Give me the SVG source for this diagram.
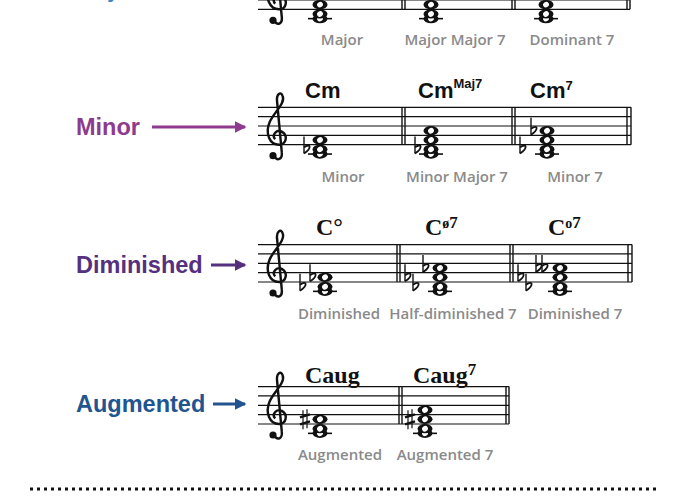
<svg xmlns="http://www.w3.org/2000/svg" width="700" height="500" viewBox="0 0 700 500">
<style>
.st line{stroke:#111;stroke-width:1.2}
.bar{stroke:#111;stroke-width:1.4}
.led{stroke:#111;stroke-width:1.6}
.lab{font-family:"Open Sans","Liberation Sans",sans-serif;font-size:15px;font-weight:600;fill:#8a8a8a;text-anchor:middle}
.cs{font-family:"Liberation Sans",sans-serif;font-weight:bold;font-size:22px;fill:#111}
.cd{font-family:"Liberation Serif",serif;font-weight:bold;font-size:24px;fill:#111}
.sup{font-size:13px}
.cat{font-family:"Liberation Sans",sans-serif;font-weight:bold;font-size:23.5px}
</style>
<defs>
<g id="n"><ellipse rx="7.5" ry="4.6" fill="#111"/><ellipse rx="3" ry="2.7" transform="rotate(-35)" fill="#fff"/></g>
<g id="clef"><path d="M11,52 C14,58 20,56 19,48 L14,-6 C13,-14 18,-18 20,-12 C23,-4 10,6 6,16 C1,28 6,40 16,40 C24,40 26,30 19,26 C13,23 8,30 12,34" fill="none" stroke="#111" stroke-width="2.6" transform="translate(0,-37.4) scale(0.935)"/><circle cx="9" cy="11" r="3.6" fill="#111"/></g>
<g id="fl" fill="none" stroke="#111"><line x1="0" y1="-13" x2="0" y2="4" stroke-width="1.4"/><path d="M0,4 C8,-1 7,-7 0,-2" stroke-width="1.8"/></g>
<g id="dfl"><use href="#fl" x="-5"/><use href="#fl" x="1"/></g>
<g id="sh" stroke="#111"><line x1="-2" y1="-9" x2="-2" y2="10" stroke-width="1.2"/><line x1="2" y1="-10" x2="2" y2="9" stroke-width="1.2"/><line x1="-5" y1="-2" x2="5" y2="-5" stroke-width="2.4"/><line x1="-5" y1="5" x2="5" y2="2" stroke-width="2.4"/></g>
<marker id="ap" markerWidth="4" markerHeight="4" refX="3.5" refY="2" orient="auto" markerUnits="strokeWidth"><path d="M0,0 L4,2 L0,4z" fill="#8E3A8E"/></marker>
<marker id="ad" markerWidth="4" markerHeight="4" refX="3.5" refY="2" orient="auto" markerUnits="strokeWidth"><path d="M0,0 L4,2 L0,4z" fill="#55307F"/></marker>
<marker id="aa" markerWidth="4" markerHeight="4" refX="3.5" refY="2" orient="auto" markerUnits="strokeWidth"><path d="M0,0 L4,2 L0,4z" fill="#22558F"/></marker>
</defs>

<g id="major" transform="translate(0,9.3)">
<text x="76" y="-12" class="cat" fill="#3a86c8">Major</text>
<g class="st"><line x1="258" y1="-37.4" x2="630" y2="-37.4"/><line x1="258" y1="-28.05" x2="630" y2="-28.05"/><line x1="258" y1="-18.7" x2="630" y2="-18.7"/><line x1="258" y1="-9.35" x2="630" y2="-9.35"/><line x1="258" y1="0" x2="630" y2="0"/></g>
<use href="#clef" x="264"/>
<g class="bar"><line x1="402" y1="-37.4" x2="402" y2="0"/><line x1="405" y1="-37.4" x2="405" y2="0"/><line x1="512" y1="-37.4" x2="512" y2="0"/><line x1="515" y1="-37.4" x2="515" y2="0"/><line x1="627" y1="-37.4" x2="627" y2="0"/><line x1="630" y1="-37.4" x2="630" y2="0"/></g>
<g class="led"><line x1="308" y1="9.35" x2="332" y2="9.35"/><line x1="419" y1="9.35" x2="443" y2="9.35"/><line x1="534" y1="9.35" x2="558" y2="9.35"/></g>
<use href="#n" x="320" y="9.35"/><use href="#n" x="320" y="4.675"/><use href="#n" x="320" y="-4.675"/>
<use href="#n" x="431" y="9.35"/><use href="#n" x="431" y="4.675"/><use href="#n" x="431" y="-4.675"/><use href="#n" x="431" y="-14.025"/>
<use href="#n" x="546" y="9.35"/><use href="#n" x="546" y="4.675"/><use href="#n" x="546" y="-4.675"/><use href="#n" x="546" y="-14.025"/>
<text class="lab" x="342" y="36">Major</text><text class="lab" x="455" y="36">Major Major 7</text><text class="lab" x="572" y="36">Dominant 7</text>
</g>

<g id="minor" transform="translate(0,144.7)">
<g class="st"><line x1="258" y1="-37.4" x2="631" y2="-37.4"/><line x1="258" y1="-28.05" x2="631" y2="-28.05"/><line x1="258" y1="-18.7" x2="631" y2="-18.7"/><line x1="258" y1="-9.35" x2="631" y2="-9.35"/><line x1="258" y1="0" x2="631" y2="0"/></g>
<use href="#clef" x="264"/>
<g class="bar"><line x1="402" y1="-37.4" x2="402" y2="0"/><line x1="405" y1="-37.4" x2="405" y2="0"/><line x1="512" y1="-37.4" x2="512" y2="0"/><line x1="515" y1="-37.4" x2="515" y2="0"/><line x1="627" y1="-37.4" x2="627" y2="0"/><line x1="631" y1="-37.4" x2="631" y2="0"/></g>
<g class="led"><line x1="308" y1="9.35" x2="332" y2="9.35"/><line x1="419" y1="9.35" x2="443" y2="9.35"/><line x1="535" y1="9.35" x2="559" y2="9.35"/></g>
<use href="#n" x="320" y="9.35"/><use href="#n" x="320" y="4.675"/><use href="#n" x="320" y="-4.675"/>
<use href="#n" x="431" y="9.35"/><use href="#n" x="431" y="4.675"/><use href="#n" x="431" y="-4.675"/><use href="#n" x="431" y="-14.025"/>
<use href="#n" x="547" y="9.35"/><use href="#n" x="547" y="4.675"/><use href="#n" x="547" y="-4.675"/><use href="#n" x="547" y="-14.025"/>
<use href="#fl" x="304" y="4.675"/><use href="#fl" x="415" y="4.675"/><use href="#fl" x="520" y="4.675"/><use href="#fl" x="531" y="-14.025"/>
<text class="cs" x="305" y="-47">Cm</text>
<text class="cs" x="418" y="-47">Cm<tspan class="sup" dy="-10">Maj7</tspan></text>
<text class="cs" x="530" y="-47">Cm<tspan class="sup" dy="-8" font-size="16">7</tspan></text>
<text class="lab" x="343" y="37">Minor</text><text class="lab" x="457" y="37">Minor Major 7</text><text class="lab" x="575" y="37">Minor 7</text>
</g>

<g id="diminished" transform="translate(0,282)">
<g class="st"><line x1="258" y1="-37.4" x2="632" y2="-37.4"/><line x1="258" y1="-28.05" x2="632" y2="-28.05"/><line x1="258" y1="-18.7" x2="632" y2="-18.7"/><line x1="258" y1="-9.35" x2="632" y2="-9.35"/><line x1="258" y1="0" x2="632" y2="0"/></g>
<use href="#clef" x="264"/>
<g class="bar"><line x1="397" y1="-37.4" x2="397" y2="0"/><line x1="400" y1="-37.4" x2="400" y2="0"/><line x1="510" y1="-37.4" x2="510" y2="0"/><line x1="513" y1="-37.4" x2="513" y2="0"/><line x1="628" y1="-37.4" x2="628" y2="0"/><line x1="632" y1="-37.4" x2="632" y2="0"/></g>
<g class="led"><line x1="313" y1="9.35" x2="337" y2="9.35"/><line x1="428" y1="9.35" x2="452" y2="9.35"/><line x1="548" y1="9.35" x2="572" y2="9.35"/></g>
<use href="#n" x="325" y="9.35"/><use href="#n" x="325" y="4.675"/><use href="#n" x="325" y="-4.675"/>
<use href="#n" x="440" y="9.35"/><use href="#n" x="440" y="4.675"/><use href="#n" x="440" y="-4.675"/><use href="#n" x="440" y="-14.025"/>
<use href="#n" x="560" y="9.35"/><use href="#n" x="560" y="4.675"/><use href="#n" x="560" y="-4.675"/><use href="#n" x="560" y="-14.025"/>
<use href="#fl" x="300" y="4.675"/><use href="#fl" x="310" y="-4.675"/>
<use href="#fl" x="405" y="-4.675"/><use href="#fl" x="413" y="4.675"/><use href="#fl" x="423" y="-14.025"/>
<use href="#fl" x="518" y="-4.675"/><use href="#fl" x="526" y="4.675"/><use href="#dfl" x="541" y="-14.025"/>
<text class="cd" x="316" y="-47">C°</text>
<text class="cd" x="425" y="-47">C<tspan font-size="14" dy="-7">ø</tspan><tspan font-size="17">7</tspan></text>
<text class="cd" x="548" y="-47">C<tspan font-size="14" dy="-7">o</tspan><tspan font-size="17">7</tspan></text>
<text class="lab" x="339" y="37">Diminished</text><text class="lab" x="453" y="37">Half-diminished 7</text><text class="lab" x="575" y="37">Diminished 7</text>
</g>

<g id="augmented" transform="translate(0,424)">
<g class="st"><line x1="258" y1="-37.4" x2="509" y2="-37.4"/><line x1="258" y1="-28.05" x2="509" y2="-28.05"/><line x1="258" y1="-18.7" x2="509" y2="-18.7"/><line x1="258" y1="-9.35" x2="509" y2="-9.35"/><line x1="258" y1="0" x2="509" y2="0"/></g>
<use href="#clef" x="264"/>
<g class="bar"><line x1="399" y1="-37.4" x2="399" y2="0"/><line x1="402" y1="-37.4" x2="402" y2="0"/><line x1="506" y1="-37.4" x2="506" y2="0"/><line x1="509" y1="-37.4" x2="509" y2="0"/></g>
<g class="led"><line x1="308" y1="9.35" x2="332" y2="9.35"/><line x1="413" y1="9.35" x2="437" y2="9.35"/></g>
<use href="#n" x="320" y="9.35"/><use href="#n" x="320" y="4.675"/><use href="#n" x="320" y="-4.675"/>
<use href="#n" x="425" y="9.35"/><use href="#n" x="425" y="4.675"/><use href="#n" x="425" y="-4.675"/><use href="#n" x="425" y="-14.025"/>
<use href="#sh" x="305" y="-4.675"/><use href="#sh" x="410" y="-4.675"/>
<text class="cd" x="305" y="-41">Caug</text>
<text class="cd" x="413" y="-41">Caug<tspan font-size="17" dy="-8">7</tspan></text>
<text class="lab" x="340" y="36">Augmented</text><text class="lab" x="445" y="36">Augmented 7</text>
</g>

<g id="labels">
<text x="76" y="135" class="cat" fill="#8E3A8E">Minor</text>
<text x="76" y="273" class="cat" fill="#55307F">Diminished</text>
<text x="76" y="412" class="cat" fill="#22558F">Augmented</text>
</g>
<g id="connectors" stroke-width="3" fill="none">
<line x1="152" y1="127" x2="245" y2="127" stroke="#8E3A8E" marker-end="url(#ap)"/>
<line x1="211" y1="265" x2="245" y2="265" stroke="#55307F" marker-end="url(#ad)"/>
<line x1="213" y1="404" x2="245" y2="404" stroke="#22558F" marker-end="url(#aa)"/>
</g>
<line x1="30" y1="489" x2="660" y2="489" stroke="#111" stroke-width="3" stroke-dasharray="3,4"/>
</svg>
